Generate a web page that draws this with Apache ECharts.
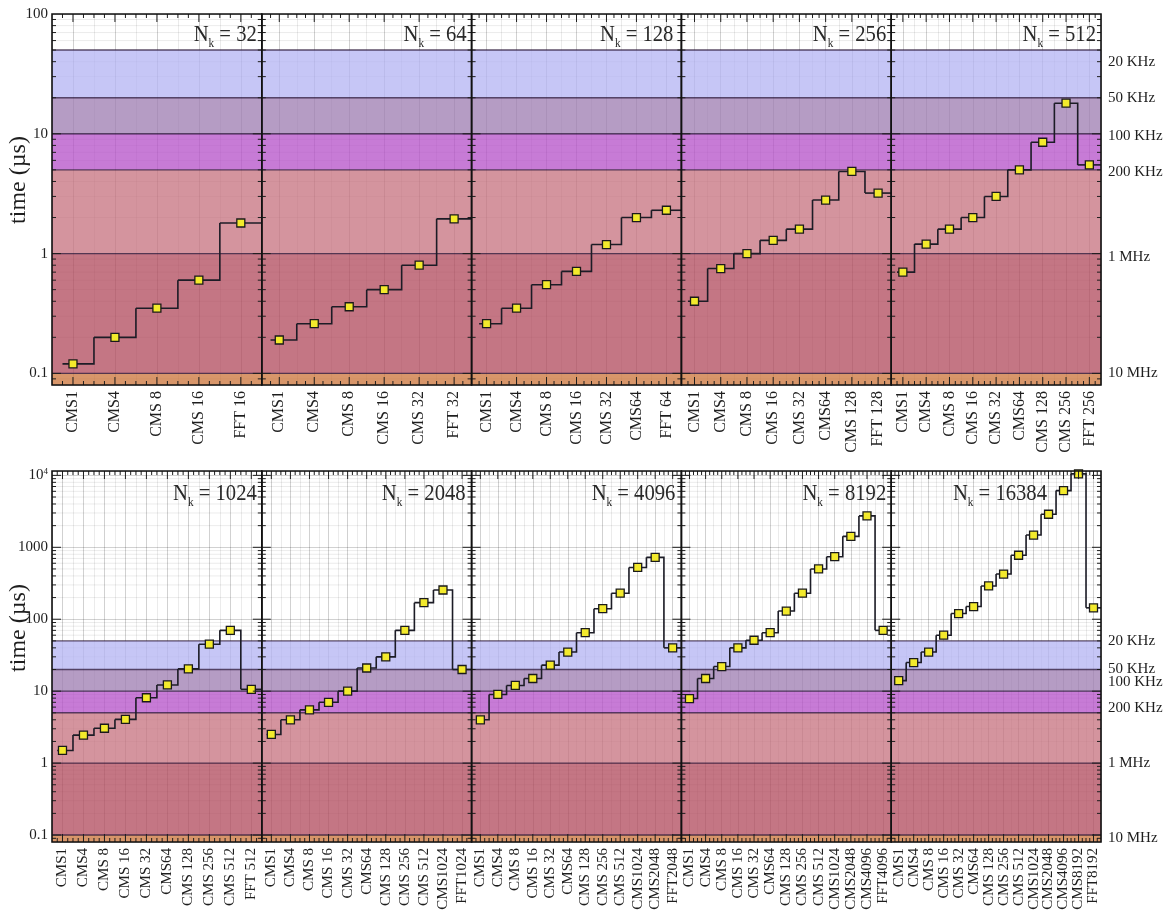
<!DOCTYPE html>
<html>
<head>
<meta charset="utf-8">
<script src="https://cdn.jsdelivr.net/npm/echarts@6/dist/echarts.min.js"></script>
<style>
  html, body { margin: 0; padding: 0; background: #fff; }
  #chart { width: 1163px; height: 911px; }
</style>
</head>
<body>
<div id="chart"></div>
<script>
// ---- Timings (µs) of each method, one panel per transform length N_k ----
const nkValues = [32, 64, 128, 256, 512, 1024, 2048, 4096, 8192, 16384];

const cats32 = ['CMS1', 'CMS4', 'CMS 8', 'CMS 16', 'FFT 16'];
const time32 = [0.12, 0.2, 0.35, 0.6, 1.8];

const cats64 = ['CMS1', 'CMS4', 'CMS 8', 'CMS 16', 'CMS 32', 'FFT 32'];
const time64 = [0.19, 0.26, 0.36, 0.5, 0.8, 1.95];

const cats128 = ['CMS1', 'CMS4', 'CMS 8', 'CMS 16', 'CMS 32', 'CMS64', 'FFT 64'];
const time128 = [0.26, 0.35, 0.55, 0.71, 1.19, 2.0, 2.3];

const cats256 = ['CMS1', 'CMS4', 'CMS 8', 'CMS 16', 'CMS 32', 'CMS64', 'CMS 128', 'FFT 128'];
const time256 = [0.4, 0.75, 1.0, 1.29, 1.6, 2.8, 4.85, 3.2];

const cats512 = ['CMS1', 'CMS4', 'CMS 8', 'CMS 16', 'CMS 32', 'CMS64', 'CMS 128', 'CMS 256', 'FFT 256'];
const time512 = [0.7, 1.2, 1.6, 2.0, 3.0, 5.0, 8.5, 18, 5.5];

const cats1024 = ['CMS1', 'CMS4', 'CMS 8', 'CMS 16', 'CMS 32', 'CMS64', 'CMS 128', 'CMS 256', 'CMS 512', 'FFT 512'];
const time1024 = [1.5, 2.45, 3.05, 4.05, 8.1, 12.2, 20.4, 45, 70, 10.6];

const cats2048 = ['CMS1', 'CMS4', 'CMS 8', 'CMS 16', 'CMS 32', 'CMS64', 'CMS 128', 'CMS 256', 'CMS 512', 'CMS1024', 'FFT1024'];
const time2048 = [2.5, 4.0, 5.5, 7.0, 10, 21, 30, 70, 170, 255, 20];

const cats4096 = ['CMS1', 'CMS4', 'CMS 8', 'CMS 16', 'CMS 32', 'CMS64', 'CMS 128', 'CMS 256', 'CMS 512', 'CMS1024', 'CMS2048', 'FFT2048'];
const time4096 = [4.0, 9.0, 12, 15, 23, 35, 65, 140, 230, 525, 725, 40];

const cats8192 = ['CMS1', 'CMS4', 'CMS 8', 'CMS 16', 'CMS 32', 'CMS64', 'CMS 128', 'CMS 256', 'CMS 512', 'CMS1024', 'CMS2048', 'CMS4096', 'FFT4096'];
const time8192 = [7.9, 15, 22, 40, 51, 65, 130, 230, 500, 740, 1420, 2730, 70];

const cats16384 = ['CMS1', 'CMS4', 'CMS 8', 'CMS 16', 'CMS 32', 'CMS64', 'CMS 128', 'CMS 256', 'CMS 512', 'CMS1024', 'CMS2048', 'CMS4096', 'CMS8192', 'FFT8192'];
const time16384 = [14, 25, 35, 60, 120, 150, 290, 425, 775, 1480, 2880, 6140, 10500, 144];

const panelCats = [cats32, cats64, cats128, cats256, cats512, cats1024, cats2048, cats4096, cats8192, cats16384];
const panelTimes = [time32, time64, time128, time256, time512, time1024, time2048, time4096, time8192, time16384];

// ---- Rate bands: time edges (µs) and the matching rate ----
const bandEdges = [0.1, 1, 5, 10, 20, 50];
const bandRates = ['10 MHz', '1 MHz', '200 KHz', '100 KHz', '50 KHz', '20 KHz'];
const minorMults = [2, 3, 4, 5, 6, 7, 8, 9];

// y range of each row (µs)
const rowRange = [[0.08, 100], [0.08, 11500]];

// ---- Styling / layout ----
const SERIF = '"Liberation Serif", "DejaVu Serif", serif';
const INK = '#1e1e1e';
// band fills, from below 0.1 µs upward (translucent so the grid shows through)
const bandFills = [
  'rgba(203,115,56,0.75)',
  'rgba(176,72,91,0.75)',
  'rgba(198,112,126,0.75)',
  'rgba(180,79,200,0.75)',
  'rgba(156,123,176,0.75)',
  'rgba(179,179,243,0.75)'
];
const rateLabelShift = [[0, 3, 2, 2, 0, 12], [3, 0, -5, -9, 0, 0]];
const GRID_LEFT = 52, PANEL_W = 209.8, ROW_TOP = [14, 471], ROW_H = 371;
const TITLE_Y = [35, 494];
const TITLE_RIGHT_GAP = [[5, 5, 8, 5, 5], [5, 6, 6, 5, 54]];
const LABEL_SIZE = [16, 15];

function fmtY(v) {
  const e = Math.log10(v);
  const r = Math.round(e);
  if (Math.abs(e - r) > 1e-6) return '';
  if (r >= 4) return '{b|10}{sup|' + r + '}';
  if (r >= 0) return '{b|' + String(Math.pow(10, r)) + '}';
  return '{b|' + Math.pow(10, r).toFixed(-r) + '}';
}

const grids = [], xAxes = [], yAxes = [], series = [], graphics = [];

panelTimes.forEach((times, p) => {
  const cats = panelCats[p];
  const n = cats.length;
  const row = p < 5 ? 0 : 1;
  const col = p % 5;
  const [yMin, yMax] = rowRange[row];
  const left = GRID_LEFT + col * PANEL_W;

  grids.push({
    left: left, top: ROW_TOP[row], width: PANEL_W, height: ROW_H,
    containLabel: false, outerBoundsMode: 'none', show: false
  });

  xAxes.push({
    type: 'value', gridIndex: p,
    min: -0.5, max: n - 0.5, minInterval: 1, maxInterval: 1,
    axisLine: { show: false }, axisTick: { show: false },
    axisLabel: {
      rotate: 90, margin: 6, fontFamily: SERIF, fontSize: LABEL_SIZE[row], color: INK,
      showMinLabel: true, showMaxLabel: true,
      formatter: v => {
        const i = Math.round(v);
        return (Math.abs(v - i) < 1e-6 && i >= 0 && i < n) ? cats[i] : '';
      }
    },
    splitLine: { show: true, lineStyle: { color: 'rgba(0,0,0,0.18)', width: 1 } },
    minorTick: { show: false, splitNumber: 2 },
    minorSplitLine: { show: true, lineStyle: { color: 'rgba(0,0,0,0.08)', width: 1 } }
  });

  yAxes.push({
    type: 'log', logBase: 10, gridIndex: p, min: yMin, max: yMax,
    axisLine: { show: false }, axisTick: { show: false },
    axisLabel: {
      show: col === 0, margin: 4, color: INK, formatter: fmtY,
      rich: {
        b: { fontFamily: SERIF, fontSize: 15, color: INK },
        sup: { fontFamily: SERIF, fontSize: 9, color: INK, verticalAlign: 'top', padding: [0, 0, 8, 0] }
      }
    },
    splitLine: { show: true, lineStyle: { color: 'rgba(0,0,0,0.18)', width: 1 } }
  });

  // minor log grid, rate bands and their edges
  series.push({
    type: 'custom', xAxisIndex: p, yAxisIndex: p, z: 1, silent: true, clip: false,
    data: [[0, 1]],
    renderItem: (params, api) => {
      const cs = params.coordSys;
      const x0 = cs.x, x1 = cs.x + cs.width;
      const children = [];
      const kLo = Math.floor(Math.log10(yMin)), kHi = Math.ceil(Math.log10(yMax));
      for (let k = kLo; k <= kHi; k++) {
        minorMults.forEach(m => {
          const v = m * Math.pow(10, k);
          if (v > yMin && v < yMax) {
            const y = api.coord([0, v])[1];
            children.push({ type: 'line', shape: { x1: x0, y1: y, x2: x1, y2: y },
              style: { stroke: 'rgba(0,0,0,0.08)', lineWidth: 1 } });
          }
        });
      }
      const edges = [yMin].concat(bandEdges);
      for (let i = 0; i < bandFills.length; i++) {
        const yb = api.coord([0, edges[i]])[1];
        const yt = api.coord([0, edges[i + 1]])[1];
        children.push({ type: 'rect', shape: { x: x0, y: yt, width: cs.width, height: yb - yt },
          style: { fill: bandFills[i] } });
      }
      bandEdges.forEach((e, i) => {
        const y = api.coord([0, e])[1];
        children.push({ type: 'line', shape: { x1: x0, y1: y, x2: x1, y2: y },
          style: { stroke: 'rgba(45,25,60,0.75)', lineWidth: 1.4 } });
        if (col === 4) {
          children.push({ type: 'text', x: x1 + 7, y: y + rateLabelShift[row][i],
            style: { text: bandRates[i], fontFamily: SERIF, fontSize: 15, fill: INK,
              align: 'left', verticalAlign: 'middle' } });
        }
      });
      return { type: 'group', children: children };
    }
  });

  // histogram-style step line through the timings
  series.push({
    type: 'custom', xAxisIndex: p, yAxisIndex: p, z: 3, silent: true, clip: false,
    data: times.map((t, i) => [i, t]),
    renderItem: (params, api) => {
      const i = api.value(0), v = api.value(1);
      const pts = [api.coord([i - (i === 0 ? 0.25 : 0.5), v]), api.coord([i + 0.5, v])];
      if (i < times.length - 1) pts.push(api.coord([i + 0.5, times[i + 1]]));
      return { type: 'polyline', shape: { points: pts },
        style: { stroke: '#1c1c26', lineWidth: 1.6, fill: null } };
    }
  });

  // markers
  series.push({
    type: 'scatter', xAxisIndex: p, yAxisIndex: p, z: 4, silent: true,
    symbol: 'rect', symbolSize: 8,
    itemStyle: { color: '#f3ea2c', borderColor: '#1a1a1a', borderWidth: 1.3, opacity: 1 },
    data: times.map((t, i) => [i, t])
  });

  // frame and inward ticks on all four sides
  series.push({
    type: 'custom', xAxisIndex: p, yAxisIndex: p, z: 6, silent: true, clip: false,
    data: [[0, 1]],
    renderItem: (params, api) => {
      const cs = params.coordSys;
      const x0 = cs.x, x1 = cs.x + cs.width, yT = cs.y, yB = cs.y + cs.height;
      const st = { stroke: INK, lineWidth: 1 };
      const children = [];
      const kLo = Math.floor(Math.log10(yMin)), kHi = Math.ceil(Math.log10(yMax));
      for (let k = kLo; k <= kHi; k++) {
        [1].concat(minorMults).forEach(m => {
          const v = m * Math.pow(10, k);
          if (v > yMin && v < yMax) {
            const y = api.coord([0, v])[1];
            const len = m === 1 ? 9 : 4;
            children.push({ type: 'line', shape: { x1: x0, y1: y, x2: x0 + len, y2: y }, style: st });
            children.push({ type: 'line', shape: { x1: x1 - len, y1: y, x2: x1, y2: y }, style: st });
          }
        });
      }
      for (let q = -1; q <= 4 * n - 3; q++) {
        const xv = q / 4;
        if (xv <= -0.5 || xv >= n - 0.5) continue;
        const x = api.coord([xv, yMin])[0];
        const len = q % 4 === 0 ? 8 : 4;
        children.push({ type: 'line', shape: { x1: x, y1: yB, x2: x, y2: yB - len }, style: st });
        children.push({ type: 'line', shape: { x1: x, y1: yT, x2: x, y2: yT + len }, style: st });
      }
      children.push({ type: 'rect', shape: { x: x0, y: yT, width: cs.width, height: cs.height },
        style: { stroke: '#111', lineWidth: 1.6, fill: null } });
      return { type: 'group', children: children };
    }
  });

  // panel title  N_k = ...
  graphics.push({
    type: 'text', silent: true,
    x: left + PANEL_W - TITLE_RIGHT_GAP[row][col], y: TITLE_Y[row], scaleX: 0.86,
    style: {
      text: '{m|N}{s|k}{m| = ' + nkValues[p] + '}',
      align: 'right', verticalAlign: 'middle',
      rich: {
        m: { fontFamily: SERIF, fontSize: 24, fill: '#2a2a2a', lineHeight: 30 },
        s: { fontFamily: SERIF, fontSize: 13, fill: '#2a2a2a', lineHeight: 30, verticalAlign: 'bottom', padding: [0, 0, 0, 0] }
      }
    }
  });
});

// y-axis titles, one per row
[180, 628].forEach(cy => {
  graphics.push({
    type: 'text', silent: true, x: 19, y: cy, rotation: Math.PI / 2,
    style: { text: 'time (µs)', fontFamily: SERIF, fontSize: 24, fill: INK,
      align: 'center', verticalAlign: 'middle' }
  });
});

const chart = echarts.init(document.getElementById('chart'), null, { renderer: 'canvas' });
chart.setOption({
  backgroundColor: '#ffffff',
  animation: false,
  grid: grids,
  xAxis: xAxes,
  yAxis: yAxes,
  series: series,
  graphic: graphics
});
</script>
</body>
</html>
